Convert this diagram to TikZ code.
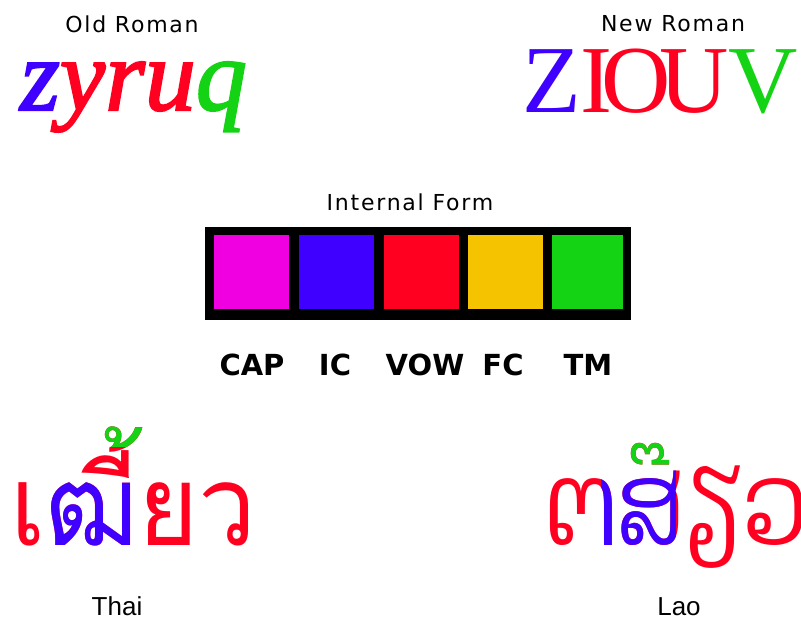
\documentclass[tikz,border=0pt]{standalone}
\usepackage{fontspec}
\setmainfont{DejaVu Sans}
\newfontfamily\thaifont[Script=Thai]{Loma}
\newfontfamily\laofont[Script=Lao]{Dhyana}
\newfontfamily\labelfont{Liberation Sans}
\newfontfamily\spacedfont[LetterSpace=8]{DejaVu Sans}
\newfontfamily\oldromanfont[FakeBold=2]{Liberation Serif}
\newfontfamily\newromanfont[LetterSpace=-12]{Liberation Serif}

\definecolor{capmag}{RGB}{240,0,224}
\definecolor{icblue}{RGB}{64,0,255}
\definecolor{vowred}{RGB}{255,0,32}
\definecolor{fcyel}{RGB}{245,195,0}
\definecolor{tmgreen}{RGB}{20,210,20}

\newcommand{\thaiword}{\scalebox{0.92}[1]{เฒี้ยว}}
\newcommand{\laoword}{\scalebox{0.82}[1]{ຕສ໊ຽວ}}

\begin{document}
\begin{tikzpicture}[
    x=1pt, y=-1pt,
    title/.style={
        font=\spacedfont\fontsize{22}{24}\selectfont,
        anchor=base,
        inner sep=0pt
    },
    field/.style={
        font=\bfseries\fontsize{29}{32}\selectfont,
        anchor=base,
        inner sep=0pt
    },
    script/.style={
        font=\labelfont\fontsize{26}{28}\selectfont,
        anchor=base,
        inner sep=0pt
    },
    cell/.style={
        minimum width=75pt,
        minimum height=74pt,
        inner sep=0pt,
        anchor=north west
    },
    thai/.style={
        font=\thaifont\fontsize{112}{120}\selectfont,
        anchor=base west,
        inner sep=0pt,
        text=vowred
    },
    lao/.style={
        font=\laofont\fontsize{115}{120}\selectfont,
        anchor=base west,
        inner sep=0pt,
        text=vowred
    }
]
\useasboundingbox (0,0) rectangle (801,618);

% Roman samples
\node[title] (old) at (132,33) {Old Roman};
\node[anchor=base west, inner sep=0pt,
      font=\oldromanfont\itshape\fontsize{102}{110}\selectfont]
    (oldword) at (20,110)
    {\textcolor{icblue}{z}\textcolor{vowred}{yru}\textcolor{tmgreen}{q}};

\node[title] (new) at (673,32) {New Roman};
\node[anchor=base, inner sep=0pt,
      font=\newromanfont\fontsize{96}{110}\selectfont]
    (newword) at (660,113)
    {\textcolor{icblue}{Z}\textcolor{vowred}{IOU}\textcolor{tmgreen}{V}};

% Internal form
\node[title] (form) at (410,210) {Internal Form};
\fill[black] (205,227) rectangle (631,320);
\node[cell, fill=capmag]  (cap) at (214,235) {};
\node[cell, fill=icblue]  (ic)  at (299,235) {};
\node[cell, fill=vowred]  (vow) at (384,235) {};
\node[cell, fill=fcyel]   (fc)  at (468,235) {};
\node[cell, fill=tmgreen, minimum width=71pt] (tm) at (552,235) {};

\node[field] (caplbl) at (252,375) {CAP};
\node[field] (iclbl)  at (335,375) {IC};
\node[field] (vowlbl) at (425,375) {VOW};
\node[field] (fclbl)  at (503,375) {FC};
\node[field] (tmlbl)  at (588,375) {TM};

% Thai
\node[thai] (thaiword) at (10,545) {\thaiword};
\begin{scope}
    \clip (44,477) rectangle (139,560);
    \node[thai, text=icblue] (thaiic) at (10,545) {\thaiword};
\end{scope}
\begin{scope}
    \clip (95,380) rectangle (190,446);
    \node[thai, text=tmgreen] (thaitm) at (10,545) {\thaiword};
\end{scope}
\node[script] (thai) at (117,615) {Thai};

% Lao
\node[lao] (laoword) at (545,545) {\laoword};
\begin{scope}
    \clip (601,470) rectangle (675,560);
    \node[lao, text=icblue] (laoic) at (545,545) {\laoword};
\end{scope}
\begin{scope}
    \clip (610,420) rectangle (692,469);
    \node[lao, text=tmgreen] (laotm) at (545,545) {\laoword};
\end{scope}
\node[script] (lao) at (679,615) {Lao};

\end{tikzpicture}
\end{document}
